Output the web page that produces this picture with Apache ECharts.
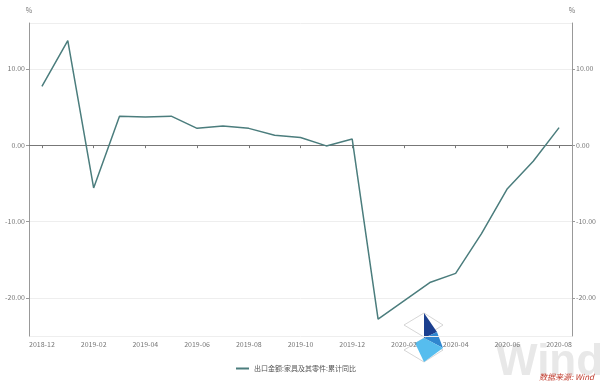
<!DOCTYPE html>
<html><head><meta charset="utf-8">
<script src="https://cdn.jsdelivr.net/npm/echarts@6/dist/echarts.min.js"></script>
<style>html,body{margin:0;padding:0;background:#fff}#c{width:600px;height:384px}</style>
</head><body><div id="c"></div>
<script>
const categories = ['2018-12','2019-01','2019-02','2019-03','2019-04','2019-05','2019-06','2019-07','2019-08','2019-09','2019-10','2019-11','2019-12','2020-01','2020-02','2020-03','2020-04','2020-05','2020-06','2020-07','2020-08'];
const values = [7.7,13.7,-5.6,3.8,3.7,3.8,2.2,2.5,2.2,1.3,1.0,-0.1,0.8,-22.8,-20.4,-18.0,-16.8,-11.6,-5.7,-2.1,2.3];
const seriesName = '出口金额:家具及其零件:累计同比';
const unit = '%';
const source = '数据来源: Wind';

const chart = echarts.init(document.getElementById('c'), null, {renderer:'canvas'});
const font = '"Noto Sans CJK SC", "Noto Sans", sans-serif';
const yCommon = {
  type:'value', min:-25, max:16, splitNumber:5,
  name: unit, nameGap: 9,
  axisLine:{show:true, lineStyle:{color:'#999', width:1}},
  axisTick:{show:true, length:3, lineStyle:{color:'#999'}},
  splitLine:{show:true, lineStyle:{color:'#eee', width:1}},
  axisLabel:{color:'#777', fontSize:7, fontFamily:font, margin:4, showMinLabel:false, showMaxLabel:false,
    formatter: v => v.toFixed(2)}
};
chart.setOption({
  animation:false,
  grid:{left:29, right:28, top:23, bottom:48, containLabel:false},
  legend:{
    data:[seriesName], left:231, top:360, itemWidth:13, itemHeight:2, itemGap:3,
    icon:'rect',
    textStyle:{color:'#555', fontSize:7, fontFamily:font}
  },
  xAxis:[
    {type:'category', data:categories, position:'bottom', boundaryGap:true,
     axisLine:{show:false, onZero:false}, axisTick:{show:false},
     axisLabel:{color:'#777', fontSize:7, fontFamily:font, interval:1, margin:5}},
    {type:'category', data:categories, position:'top', boundaryGap:true,
     axisLine:{show:true, onZero:true, lineStyle:{color:'#777', width:1}},
     axisTick:{show:true, inside:true, length:3, interval:1, alignWithLabel:true, lineStyle:{color:'#777'}},
     axisLabel:{show:false, interval:1}}
  ],
  yAxis:[
    Object.assign({}, yCommon, {position:'left', nameTextStyle:{color:'#777', fontSize:7, fontFamily:font, align:'center'}}),
    Object.assign({}, yCommon, {position:'right', splitLine:{show:false}, nameTextStyle:{color:'#777', fontSize:7, fontFamily:font, align:'center'}})
  ],
  series:[{
    name:seriesName, type:'line', data:values, xAxisIndex:0, yAxisIndex:0,
    symbol:'none', lineStyle:{color:'#4b7d7d', width:1.5}, itemStyle:{color:'#4b7d7d'}
  }],
  graphic:[
    {type:'text', left:496, top:341, z:-1, style:{text:'Wind', fill:'#e8e8e8', font:'bold 44px Arial, "Liberation Sans", sans-serif'}},
    {type:'polygon', shape:{points:[[404,325],[424,313],[443,325],[424,337]]}, style:{fill:'#fff', stroke:'#bbb', lineWidth:0.6}},
    {type:'polygon', shape:{points:[[404,350],[424,338],[443,350],[424,362]]}, style:{fill:'#fff', stroke:'#bbb', lineWidth:0.6}},
    {type:'polygon', shape:{points:[[424,313],[437,332],[424,338]]}, style:{fill:'#1b3f8f'}},
    {type:'polygon', shape:{points:[[424,338],[437,332],[443,348]]}, style:{fill:'#2f86cf'}},
    {type:'polygon', shape:{points:[[415,343],[424,338],[443,348],[424,362]]}, style:{fill:'#56bdee'}},
    {type:'text', left:539, top:373, style:{text:source, fill:'#c0392b', font:'italic 8px "Noto Sans CJK SC", sans-serif'}}
  ]
});
</script></body></html>
